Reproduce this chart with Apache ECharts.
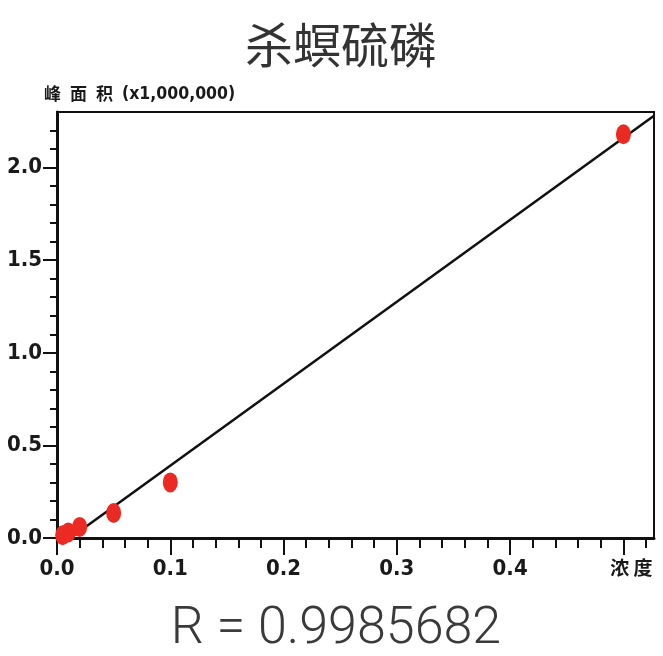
<!DOCTYPE html>
<html>
<head>
<meta charset="utf-8">
<script src="https://cdn.jsdelivr.net/npm/echarts@6/dist/echarts.min.js"></script>
<style>html,body{margin:0;padding:0;background:#fff}#c{width:663px;height:656px}</style>
</head>
<body>
<div id="c"></div>
<script>
// Data
const titleText = '杀螟硫磷';
const yNameChars = ['峰', '面', '积'];
const yUnit = '(x1,000,000)';
const xEndLabel = '浓 度';
const rText = 'R = 0.9985682';
const concentrations = [0.005, 0.01, 0.02, 0.05, 0.1, 0.5];
const peakAreas = [0.015, 0.03, 0.06, 0.135, 0.30, 2.18];
const xMajorTicks = [0, 0.1, 0.2, 0.3, 0.4, 0.5];
const xMinorTicks = [0.02,0.04,0.06,0.08,0.12,0.14,0.16,0.18,0.22,0.24,0.26,0.28,0.32,0.34,0.36,0.38,0.42,0.44,0.46,0.48,0.52];
const yMajorTicks = [0, 0.5, 1.0, 1.5, 2.0];
const yMinorTicks = [0.1,0.2,0.3,0.4,0.6,0.7,0.8,0.9,1.1,1.2,1.3,1.4,1.6,1.7,1.8,1.9,2.1,2.2];
const xMax = 0.527, yMax = 2.3;

// least squares regression line
const n = concentrations.length;
const mx = concentrations.reduce((a,b)=>a+b,0)/n;
const my = peakAreas.reduce((a,b)=>a+b,0)/n;
let sxy=0,sxx=0;
for(let i=0;i<n;i++){sxy+=(concentrations[i]-mx)*(peakAreas[i]-my);sxx+=(concentrations[i]-mx)**2;}
const slope = sxy/sxx, icpt = my - slope*mx;
const xStart = Math.max(0, -icpt/slope);
const fitLine = [[xStart, slope*xStart+icpt],[xMax, slope*xMax+icpt]];

const numFont = '"Liberation Sans Narrow","DejaVu Sans Condensed","Liberation Sans",sans-serif';
const chart = echarts.init(document.getElementById('c'));
const baseX = {type:'value', min:0, max:xMax, gridIndex:0, position:'bottom', splitLine:{show:false}};
const baseY = {type:'value', min:0, max:yMax, gridIndex:0, position:'left', splitLine:{show:false}};
chart.setOption({
  animation:false,
  backgroundColor:'#fff',
  grid:{left:57, right:9, top:112, bottom:118, show:true, borderColor:'#111', borderWidth:2, backgroundColor:'transparent'},
  xAxis:[
    Object.assign({}, baseX, {
      axisLine:{show:true, lineStyle:{color:'#111', width:3}},
      axisTick:{show:true, inside:false, length:17, customValues:xMajorTicks, lineStyle:{color:'#111', width:2}},
      axisLabel:{show:true, margin:20, customValues:xMajorTicks, color:'#1a1a1a', fontSize:22, fontWeight:'bold', fontFamily:numFont,
        formatter:function(v){ if (Math.abs(v-0.5)<1e-9) return '{u|'+xEndLabel+'}'; return v.toFixed(1); },
        rich:{u:{fontSize:19, fontWeight:'bold', fontFamily:'"Noto Sans CJK SC"', color:'#1a1a1a', padding:[0,0,0,16]}}}
    }),
    Object.assign({}, baseX, {
      axisLine:{show:false}, axisLabel:{show:false},
      axisTick:{show:true, length:10, customValues:xMinorTicks, lineStyle:{color:'#111', width:2}}
    })
  ],
  yAxis:[
    Object.assign({}, baseY, {
      axisLine:{show:true, lineStyle:{color:'#111', width:3}},
      axisTick:{show:true, length:14, customValues:yMajorTicks, lineStyle:{color:'#111', width:2}},
      axisLabel:{show:true, margin:15, customValues:yMajorTicks, color:'#1a1a1a', fontSize:22, fontWeight:'bold', fontFamily:numFont,
        formatter:function(v){ return v.toFixed(1); }}
    }),
    Object.assign({}, baseY, {
      axisLine:{show:false}, axisLabel:{show:false},
      axisTick:{show:true, length:7, customValues:yMinorTicks, lineStyle:{color:'#111', width:2}}
    })
  ],
  graphic:[
    {type:'text', x:341, y:45, style:{text:titleText, align:'center', verticalAlign:'middle', fill:'#333', font:'normal 48px "Noto Sans CJK SC"'}},
    {type:'text', x:44, y:94, style:{text:yNameChars.map(c=>'{c|'+c+'}').join('')+'{u|'+yUnit+'}', verticalAlign:'middle', rich:{
      c:{fontSize:17, fontWeight:'bold', fontFamily:'"Noto Sans CJK SC"', fill:'#1a1a1a', padding:[0,9,0,0]},
      u:{fontSize:17.5, fontWeight:'bold', fontFamily:numFont, fill:'#1a1a1a'}}}},
    {type:'text', x:336, y:630, style:{text:rText, align:'center', verticalAlign:'middle', fill:'#3a3a3a', font:'300 52px Roboto, "Liberation Sans", sans-serif'}}
  ],
  series:[
    {type:'line', xAxisIndex:0, yAxisIndex:0, data:fitLine, showSymbol:false, symbol:'none', lineStyle:{color:'#111', width:2.5}, z:2},
    {type:'scatter', xAxisIndex:0, yAxisIndex:0, data:concentrations.map((x,i)=>[x,peakAreas[i]]),
      symbol:'path://M0,10 A10,10 0 1,1 20,10 A10,10 0 1,1 0,10 Z', symbolSize:[15,20],
      itemStyle:{color:'#ec2a24', opacity:1}, z:3}
  ]
});
</script>
</body>
</html>
